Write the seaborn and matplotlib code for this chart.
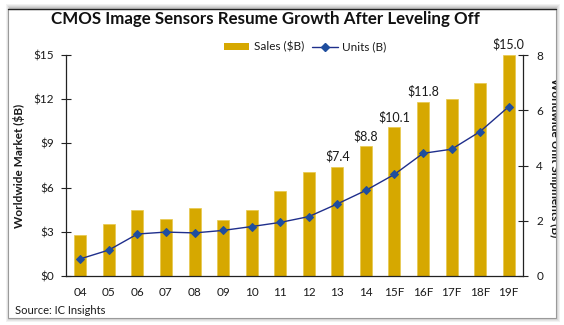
import matplotlib
matplotlib.use("Agg")
import matplotlib.pyplot as plt
import seaborn as sns
import numpy as np
import pandas as pd
from matplotlib.patches import Rectangle
from matplotlib.lines import Line2D
from matplotlib.transforms import Bbox

years = ["04", "05", "06", "07", "08", "09", "10", "11", "12", "13", "14",
         "15F", "16F", "17F", "18F", "19F"]
sales = [2.8, 3.5, 4.5, 3.9, 4.6, 3.8, 4.5, 5.8, 7.05, 7.4, 8.8, 10.1, 11.8, 12.0, 13.1, 15.0]
units = [0.62, 0.94, 1.52, 1.59, 1.56, 1.65, 1.79, 1.94, 2.15, 2.61, 3.10, 3.68, 4.44, 4.59, 5.23, 6.13]
labeled = {"13": "$7.4", "14": "$8.8", "15F": "$10.1", "16F": "$11.8", "19F": "$15.0"}
left_ticks = [0, 3, 6, 9, 12, 15]
left_ticklabels = ["$0", "$3", "$6", "$9", "$12", "$15"]
right_ticks = [0, 2, 4, 6, 8]

df = pd.DataFrame({"year": years, "sales": sales, "units": units})

sns.set_style("white")
plt.rcParams["font.family"] = ["Lato", "DejaVu Sans"]
TXT = "#1a1a1a"
BAR = "#D6A800"
LINE = "#1F2F8C"
MARK = "#1F4E9E"

W, H = 564, 325
fig = plt.figure(figsize=(W / 100, H / 100), dpi=100)
fig.patch.set_facecolor("white")

def fx(x):
    return x / W

def fy(y):
    return 1 - y / H

# frame with soft shadow
for i, a in enumerate([0.05, 0.05, 0.06, 0.07]):
    off = 4 - i
    fig.patches.append(Rectangle((fx(8 - off + 2), fy(318 + off)), fx(548 + 2 * off - 2), (310 + 2 * off) / H,
                                 transform=fig.transFigure, facecolor="#000000", alpha=a,
                                 edgecolor="none", zorder=-5))
fig.patches.append(Rectangle((fx(8), fy(318)), fx(548), 309 / H, transform=fig.transFigure,
                             facecolor="white", edgecolor="#9a9a9a", linewidth=0.8, zorder=-4))
fig.lines.append(Line2D([fx(8), fx(556)], [fy(9), fy(9)], transform=fig.transFigure,
                        color="#222222", linewidth=1.0, zorder=-3))

ax = fig.add_axes([fx(66), fy(276), fx(523 - 66), (276 - 55) / H])
ax.set_facecolor("none")
sns.barplot(data=df, x="year", y="sales", color=BAR, width=0.42, ax=ax, saturation=1,
            edgecolor="#E8C84A", linewidth=0.5, zorder=2)
ax.set_ylim(0, 15)
ax.set_xlim(-0.5, len(years) - 0.5)
ax.set_yticks(left_ticks)
ax.set_yticklabels(left_ticklabels)
ax.set_xticks(np.arange(-0.5, len(years), 1.0))
ax.set_xticklabels([""] * (len(years) + 1))
ax.set_xticks(np.arange(len(years)), minor=True)
ax.set_xticklabels(years, minor=True)
ax.tick_params(axis="x", which="major", direction="inout", length=7, width=0.8, color="#222")
ax.tick_params(axis="x", which="minor", length=0, pad=8, labelsize=8.5, labelcolor=TXT)
ax.tick_params(axis="y", direction="inout", length=7, width=0.8, color="#222", labelsize=8.5,
               labelcolor=TXT, pad=5, left=True)
ax.set_xlabel("")
ax.set_ylabel("Worldwide Market ($B)", fontsize=8.5, fontweight="bold", color=TXT, labelpad=6)
for s in ["top", "right"]:
    ax.spines[s].set_visible(False)
for s in ["left", "bottom"]:
    ax.spines[s].set_color("#222")
    ax.spines[s].set_linewidth(0.9)

for i, (y, v) in enumerate(zip(years, sales)):
    if y in labeled:
        ax.annotate(labeled[y], (i, v), xytext=(0, 3), textcoords="offset points",
                    ha="center", va="bottom", fontsize=9, color=TXT)

ax2 = ax.twinx()
sns.lineplot(data=df, x="year", y="units", ax=ax2, sort=False, color=LINE, linewidth=1.0,
             marker="D", markersize=4.5, markerfacecolor=MARK, markeredgecolor=MARK, zorder=3)
ax2.set_ylim(0, 8)
ax2.set_xlim(-0.5, len(years) - 0.5)
ax2.set_yticks(right_ticks)
ax2.set_yticklabels([str(t) for t in right_ticks])
ax2.tick_params(axis="y", direction="inout", length=7, width=0.8, color="#222", labelsize=8.5,
                labelcolor=TXT, pad=6, right=True)
ax2.set_ylabel("")
ax2.set_xlabel("")
for s in ["top", "left", "bottom"]:
    ax2.spines[s].set_visible(False)
ax2.spines["right"].set_color("#222")
ax2.spines["right"].set_linewidth(0.9)

rl = fig.text(fx(555), fy(158), "Worldwide Unit Shipments (B)", rotation=-90, ha="center",
              va="center", fontsize=8.5, fontweight="bold", color=TXT)
rl.set_clip_box(Bbox([[0, 0], [556, H]]))
rl.set_clip_on(True)

fig.text(fx(265), fy(19), "CMOS Image Sensors Resume Growth After Leveling Off", ha="center",
         va="center", fontsize=12.2, fontweight="bold", color="#111")
fig.text(fx(15), fy(311), "Source: IC Insights", ha="left", va="center", fontsize=8, color=TXT)

handles = [Rectangle((0, 0), 1, 1, facecolor=BAR, edgecolor="none"),
           Line2D([0], [0], color=LINE, linewidth=1.0, marker="D", markersize=4,
                  markerfacecolor=MARK, markeredgecolor=MARK)]
fig.legend(handles, ["Sales ($B)", "Units (B)"], loc="center", bbox_to_anchor=(fx(305), fy(47)),
           ncol=2, frameon=False, fontsize=8.5, handlelength=2.2, handleheight=0.6,
           columnspacing=0.6, handletextpad=0.4, labelcolor=TXT)

fig.savefig("out.png", dpi=100)
